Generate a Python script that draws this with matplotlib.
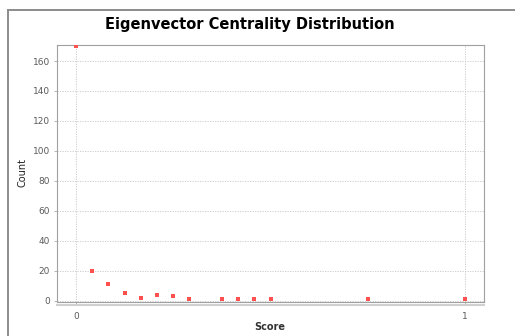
import matplotlib
matplotlib.use("Agg")
import matplotlib.pyplot as plt
from matplotlib.lines import Line2D

scores = [0.0, 1/24, 2/24, 3/24, 4/24, 5/24, 6/24, 7/24, 9/24, 10/24, 11/24, 12/24, 18/24, 1.0]
counts = [170, 20, 11, 5, 2, 4, 3, 1, 1, 1, 1, 1, 1, 1]
y_ticks = [0, 20, 40, 60, 80, 100, 120, 140, 160]
x_ticks = [0, 1]

W, H = 515, 336
fig = plt.figure(figsize=(W/100, H/100), dpi=100)
fig.patch.set_facecolor("white")

# outer frame (left and top)
fig.add_artist(Line2D([8/W, 8/W], [0, 1 - 10/H], transform=fig.transFigure, color="#8c8c8c", lw=1.4))
fig.add_artist(Line2D([8/W, 514/W], [1 - 10/H, 1 - 10/H], transform=fig.transFigure, color="#8c8c8c", lw=1.4))

ax = fig.add_axes([57/W, 1 - 302/H, (484-57)/W, (302-45)/H])
ax.set_xlim(-0.049, 1.049)
ax.set_ylim(-1.0, 170.7)

ax.scatter(scores, counts, s=5, marker="s", color="#ff5050", linewidths=0, zorder=3)

ax.set_yticks(y_ticks)
ax.set_xticks(x_ticks)
ax.set_xticklabels([str(t) for t in x_ticks])
ax.grid(True, color="#c8c8c8", linestyle=(0, (1.5, 1.5)), linewidth=0.6)
ax.set_axisbelow(True)

for s in ax.spines.values():
    s.set_color("#a0a0a0")
    s.set_linewidth(0.8)

ax.tick_params(axis="both", labelsize=6.5, labelcolor="#5a5a5a", color="#aaaaaa", length=2, width=0.6)
ax.tick_params(axis="x", pad=5)
ax.tick_params(axis="y", pad=3)

# offset axis line (JFreeChart style)
fig.add_artist(Line2D([57/W, 484/W], [1 - 304.5/H, 1 - 304.5/H], transform=fig.transFigure, color="#d0d0d0", lw=1.5))

fig.text(250/W, 1 - 25/H, "Eigenvector Centrality Distribution", ha="center", va="center",
         fontsize=10.5, fontweight="bold", color="black")
fig.text(22/W, 1 - 173/H, "Count", rotation=90, ha="center", va="center", fontsize=7, color="#222222")
fig.text(270/W, 1 - 327/H, "Score", ha="center", va="center", fontsize=7, color="#333333", fontweight="bold")

fig.savefig("out.png", dpi=100, facecolor="white")
